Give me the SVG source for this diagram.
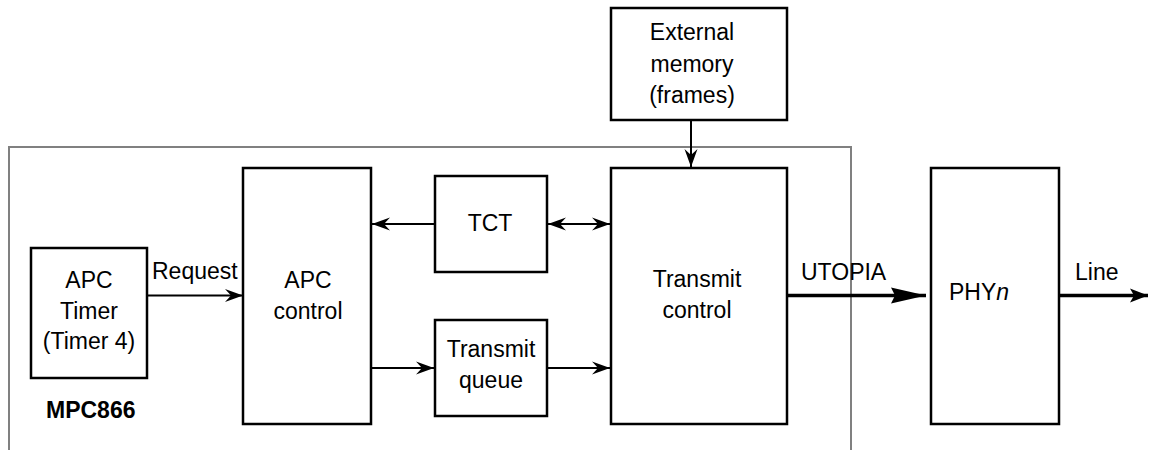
<svg xmlns="http://www.w3.org/2000/svg" width="1149" height="450" viewBox="0 0 1149 450">
<style>
.box{fill:#fff;stroke:#000;stroke-width:2.5}
.t{font-family:"Liberation Sans",Arial,sans-serif;font-size:23px;fill:#000}
.c{text-anchor:middle}
.ln{stroke:#000;stroke-width:2;fill:none}
.thick{stroke:#000;stroke-width:3.5;fill:none}
</style>
<defs>
<marker id="ah" viewBox="-19 -7 20 14" refX="0" refY="0" markerWidth="20" markerHeight="14" orient="auto-start-reverse" markerUnits="userSpaceOnUse">
<path d="M0,0 L-18,-6.5 L-12,0 L-18,6.5 Z" fill="#000"/>
</marker>
<marker id="big" viewBox="-36 -9 37 18" refX="0" refY="0" markerWidth="37" markerHeight="18" orient="auto" markerUnits="userSpaceOnUse">
<path d="M0,0 L-35,-8 L-31,0 L-35,8 Z" fill="#000"/>
</marker>
<marker id="med" viewBox="-19 -8 20 16" refX="0" refY="0" markerWidth="20" markerHeight="16" orient="auto" markerUnits="userSpaceOnUse">
<path d="M0,0 L-18,-7 L-14,0 L-18,7 Z" fill="#000"/>
</marker>
</defs>
<g id="mpc866">
<rect x="9" y="147" width="842" height="330" fill="none" stroke="#808080" stroke-width="2"/>
<text class="t" x="46" y="418" font-weight="bold">MPC866</text>
</g>
<g id="ext-memory">
<rect class="box" x="611" y="8" width="176" height="112"/>
<text class="t c" x="692" y="40">External</text>
<text class="t c" x="692" y="72">memory</text>
<text class="t c" x="692" y="103">(frames)</text>
</g>
<g id="apc-timer">
<rect class="box" x="31" y="248" width="116" height="130"/>
<text class="t c" x="89" y="288">APC</text>
<text class="t c" x="89" y="319">Timer</text>
<text class="t c" x="89" y="349">(Timer 4)</text>
</g>
<g id="apc-control">
<rect class="box" x="243" y="168" width="128" height="256"/>
<text class="t c" x="308" y="288">APC</text>
<text class="t c" x="308" y="319">control</text>
</g>
<g id="tct">
<rect class="box" x="435" y="176" width="112" height="96"/>
<text class="t c" x="490" y="231">TCT</text>
</g>
<g id="transmit-queue">
<rect class="box" x="435" y="320" width="112" height="96"/>
<text class="t c" x="491" y="357">Transmit</text>
<text class="t c" x="491" y="388">queue</text>
</g>
<g id="transmit-control">
<rect class="box" x="611" y="168" width="176" height="256"/>
<text class="t c" x="697" y="287">Transmit</text>
<text class="t c" x="697" y="318">control</text>
</g>
<g id="phyn">
<rect class="box" x="931" y="168" width="128" height="256"/>
<text class="t" x="949" y="300">PHY<tspan font-style="italic">n</tspan></text>
</g>
<g id="connectors">
<line class="ln" x1="147" y1="295.5" x2="243" y2="295.5" marker-end="url(#ah)"/>
<text class="t" x="152" y="279">Request</text>
<line class="ln" x1="435" y1="224" x2="372" y2="224" marker-end="url(#ah)"/>
<line class="ln" x1="548" y1="224" x2="610" y2="224" marker-start="url(#ah)" marker-end="url(#ah)"/>
<line class="ln" x1="371" y1="368" x2="434" y2="368" marker-end="url(#ah)"/>
<line class="ln" x1="547" y1="368" x2="610" y2="368" marker-end="url(#ah)"/>
<line class="ln" x1="691" y1="120" x2="691" y2="167" marker-end="url(#ah)"/>
<line class="thick" x1="787" y1="295.5" x2="926" y2="295.5" marker-end="url(#big)"/>
<text class="t" x="801" y="280">UTOPIA</text>
<line class="thick" x1="1059" y1="295.5" x2="1148" y2="295.5" stroke-width="3" marker-end="url(#med)"/>
<text class="t" x="1075" y="280">Line</text>
</g>
</svg>
